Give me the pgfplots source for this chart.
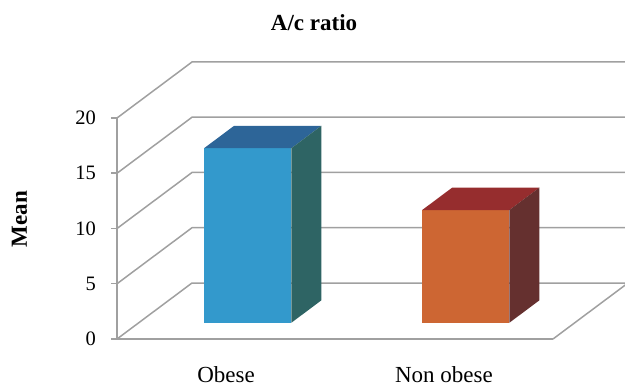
\documentclass[border=0pt]{standalone}
\usepackage{pgfplots}
\pgfplotsset{compat=1.18}
\usepackage{fontspec}
\setmainfont{Liberation Serif}

\definecolor{gridgray}{RGB}{160,160,160}
\definecolor{obFront}{RGB}{51,153,204}
\definecolor{obTop}{RGB}{45,101,152}
\definecolor{obSide}{RGB}{46,100,100}
\definecolor{noFront}{RGB}{205,102,51}
\definecolor{noTop}{RGB}{150,45,46}
\definecolor{noSide}{RGB}{101,48,47}

\begin{document}
\begin{tikzpicture}
% page frame: the origin of both axes is the front lower left corner
\useasboundingbox (-58.5pt,-23pt) rectangle (254pt,169.5pt);
\clip (-58.5pt,-23pt) rectangle (254pt,169.5pt);

% front plane: value axis, category labels, title
\begin{axis}[
  at={(0,0)}, anchor=origin,
  x=109pt, y=5.525pt,
  xmin=0, xmax=2, ymin=0, ymax=20,
  axis x line*=bottom, axis y line*=left,
  axis line style={gridgray, line width=0.75pt, -},
  ytick={0,5,10,15,20},
  xtick={0.5,1.5}, xticklabels={Obese, Non obese},
  tick align=outside, major tick length=3pt,
  x tick style={draw=none},
  y tick style={gridgray, line width=0.75pt},
  /pgf/number format/assume math mode=true,
  yticklabel style={font=\fontsize{10.25}{12}\selectfont, xshift=-4pt},
  xticklabel style={font=\fontsize{11.5}{13}\selectfont, anchor=base, yshift=-18.5pt},
  ylabel={Mean},
  ylabel style={font=\fontsize{11.5}{13}\selectfont\bfseries,
    at={(axis description cs:-0.224,0.543)}, anchor=center, rotate=0},
  title={A/c ratio},
  title style={font=\fontsize{11.5}{13}\selectfont\bfseries,
    at={(axis description cs:0.452,1.34)}, anchor=base, yshift=0pt},
  clip=false,
]
\end{axis}

% oblique depth: back wall, floor and the 3-D bars
\begin{axis}[
  at={(0,0)}, anchor=origin,
  x={(109pt,0pt)}, y={(0pt,5.525pt)}, z={(37.5pt,28pt)},
  xmin=0, xmax=2, ymin=0, ymax=20, zmin=0, zmax=1,
  hide axis, clip=false,
]
\foreach \v in {0,5,10,15,20}{
  \edef\temp{\noexpand\draw[gridgray, line width=0.75pt]
    (axis cs:0,\v,0) -- (axis cs:0,\v,1) -- (axis cs:2,\v,1);}
  \temp
}
\draw[gridgray, line width=0.75pt] (axis cs:2,0,0) -- (axis cs:2,0,1);

% Obese: 15.8
\addplot3[fill=obFront, draw=none] coordinates
  {(0.3,0,0.29) (0.7,0,0.29) (0.7,15.8,0.29) (0.3,15.8,0.29)} -- cycle;
\addplot3[fill=obTop, draw=none] coordinates
  {(0.3,15.8,0.29) (0.7,15.8,0.29) (0.7,15.8,0.69) (0.3,15.8,0.69)} -- cycle;
\addplot3[fill=obSide, draw=none] coordinates
  {(0.7,0,0.29) (0.7,0,0.69) (0.7,15.8,0.69) (0.7,15.8,0.29)} -- cycle;

% Non obese: 10.2
\addplot3[fill=noFront, draw=none] coordinates
  {(1.3,0,0.29) (1.7,0,0.29) (1.7,10.2,0.29) (1.3,10.2,0.29)} -- cycle;
\addplot3[fill=noTop, draw=none] coordinates
  {(1.3,10.2,0.29) (1.7,10.2,0.29) (1.7,10.2,0.69) (1.3,10.2,0.69)} -- cycle;
\addplot3[fill=noSide, draw=none] coordinates
  {(1.7,0,0.29) (1.7,0,0.69) (1.7,10.2,0.69) (1.7,10.2,0.29)} -- cycle;
\end{axis}
\end{tikzpicture}
\end{document}
